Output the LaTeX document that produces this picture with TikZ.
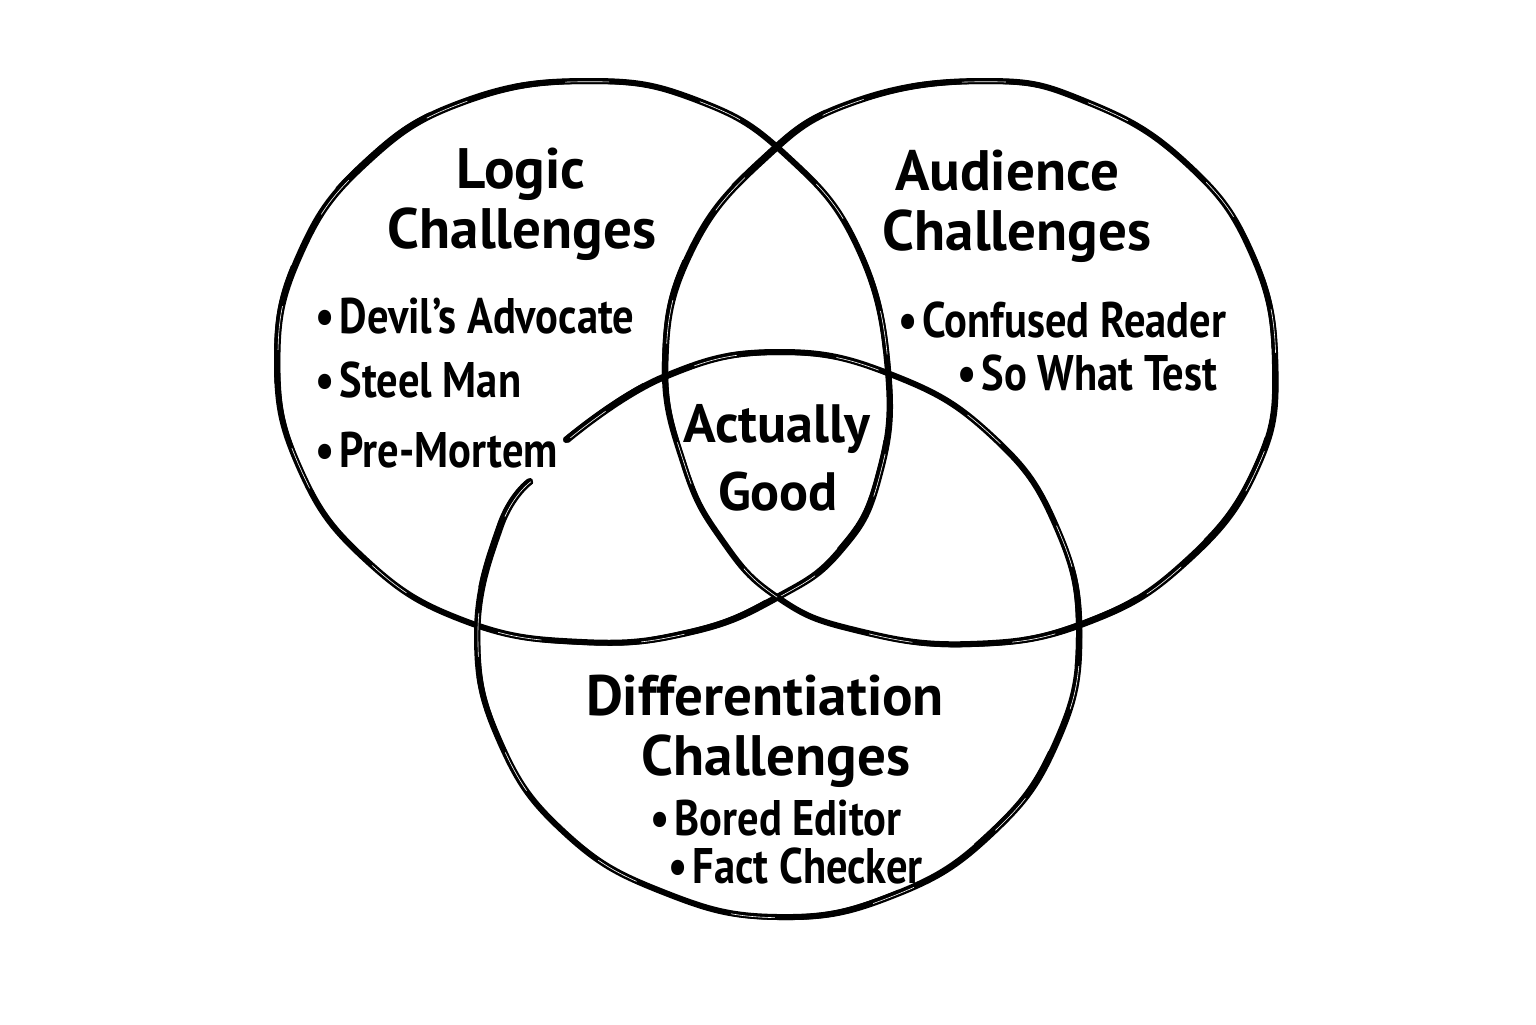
\documentclass[tikz,border=0pt]{standalone}
\usepackage{fontspec}
\setmainfont{PT Sans}
\newfontfamily\itemfont{PT Sans}[FakeStretch=0.85]
\newcommand\skloop[2]{%
  \draw[line width=3pt, line join=round, line cap=round] plot[#1] coordinates {#2};
  \draw[line width=1.4pt, line cap=round, shift={(2,1.6)}] plot[#1] coordinates {#2};
  \draw[line width=1.2pt, line cap=round, shift={(-1.8,-1.3)}, dash pattern=on 60pt off 45pt] plot[#1] coordinates {#2};
  \draw[white, line width=0.3pt, dash pattern=on 22pt off 50pt, shift={(0.9,0.7)}] plot[#1] coordinates {#2};
}
\begin{document}
\begin{tikzpicture}[x=0.5pt,y=-0.5pt,
  title/.style={font=\bfseries\fontsize{28.5}{32}\selectfont, inner sep=0pt, anchor=base},
  centre/.style={font=\bfseries\fontsize{27}{31}\selectfont, inner sep=0pt, anchor=base},
  item/.style={font=\itemfont\bfseries\fontsize{25}{29}\selectfont, inner sep=0pt, anchor=base west}]
\useasboundingbox (0,0) rectangle (1536,1024);
\fill[white] (0,0) rectangle (1536,1024);
% left circle
\skloop{smooth cycle, tension=0.75}{(590,81) (699,101) (788,157) (858,248) (888,372) (878,478) (840,550) (777,597) (690,632) (582,642) (465,621) (366,560) (300,469) (277,361) (300,253) (366,162) (465,101)}
% right circle
\skloop{smooth cycle, tension=0.75}{(985,81) (1087,102) (1186,163) (1252,254) (1275,365) (1256,468) (1186,561) (1087,622) (970,644) (855,630) (777,597) (722,540) (684,465) (665,362) (690,252) (762,160) (853,102)}
% bottom circle (open near Pre-Mortem)
\skloop{smooth, tension=0.75}{(530,481) (500,526) (477,634) (500,742) (565,833) (663,892) (778,917) (893,895) (991,833) (1056,742) (1079,634) (1056,526) (993,437) (895,376) (778,352) (663,377) (566,440)}
% titles
\node[title] (lg1) at (521,188) {Logic};
\node[title] (lg2) at (522,248) {Challenges};
\node[title] (au1) at (1007,190) {Audience};
\node[title] (au2) at (1017,250) {Challenges};
\node[centre] (ag1) at (777,442) {Actually};
\node[centre] (ag2) at (778,510) {Good};
\node[title] (df1) at (765,715) {Differentiation};
\node[title] (df2) at (776,775) {Challenges};
% items
\node[item] (i1) at (315,333) {•\hspace{2.5pt}Devil’s Advocate};
\node[item] (i2) at (315,397) {•\hspace{2.5pt}Steel Man};
\node[item] (i3) at (315,467) {•\hspace{2.5pt}Pre-Mortem};
\node[item] (i4) at (898,337) {•\hspace{2.5pt}Confused Reader};
\node[item] (i5) at (957,390) {•\hspace{2.5pt}So What Test};
\node[item] (i6) at (650,835) {•\hspace{2.5pt}Bored Editor};
\node[item] (i7) at (668,883) {•\hspace{2.5pt}Fact Checker};
\end{tikzpicture}
\end{document}
